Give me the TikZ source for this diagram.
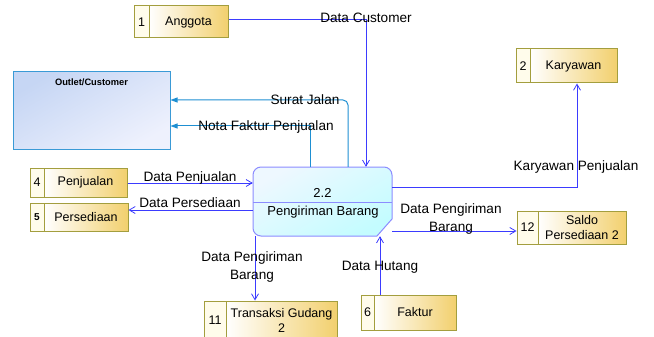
\documentclass[tikz,border=0pt]{standalone}
\usepackage{fontspec}
\setmainfont{Liberation Sans}
\usetikzlibrary{arrows.meta,fit}

\definecolor{flowblue}{HTML}{3B3BFF}
\definecolor{flowcyan}{HTML}{1E8FD2}
\definecolor{storeedge}{HTML}{A39E3E}
\definecolor{storegold}{HTML}{F2D06E}
\definecolor{storecream}{HTML}{FFFCEB}
\definecolor{procedge}{HTML}{8C8CFF}
\definecolor{procfillA}{HTML}{EEF8FF}
\definecolor{procfillB}{HTML}{C4FCFF}
\definecolor{entedge}{HTML}{3A9AD6}
\definecolor{entfillA}{HTML}{C6D6F4}
\definecolor{entfillB}{HTML}{EEF1FD}

% data store: name, x1, y1, x2, y2, split x, number, label
\newcommand\dstore[8]{%
  \node[storebox, fit={(#6,#3)(#4,#5)}] (#1) {};
  \node[storenum, fit={(#2,#3)(#6,#5)}] (#1-n) {};
  \node[storetext] (#1-t) at (#1.center) {#8};
  \node[storetext] (#1-nt) at (#1-n.center) {#7};
}

\begin{document}
\begin{tikzpicture}[x=1pt,y=-1pt,
  flowb/.style={draw=flowblue, line width=0.8pt, -{Straight Barb[length=6pt,width=7pt]}},
  flowc/.style={draw=flowcyan, line width=1pt, -{Triangle[length=7pt,width=5pt]}},
  storebox/.style={draw=storeedge, line width=1pt, left color=white, right color=storegold,
    inner sep=0pt},
  storenum/.style={draw=storeedge, line width=1pt, fill=storecream, inner sep=0pt},
  storetext/.style={inner sep=0pt, align=center, font=\fontsize{12.5}{14.5}\selectfont},
  lbl/.style={align=center, inner sep=0pt, font=\fontsize{13.6}{18}\selectfont}]

\clip (0,0) rectangle (654,337);

% external entity
\node[fit={(13,72)(170,149)}, inner sep=0pt, draw=entedge, line width=1pt,
  top color=entfillA, bottom color=entfillB, shading angle=30] (outlet) {};
\node[font=\fontsize{9.3}{11}\bfseries\selectfont] (outlettxt) at (91.5,82) {Outlet/Customer};

% process
\path[draw=procedge, line width=1pt, top color=procfillA, bottom color=procfillB, shading angle=30]
  [rounded corners=8pt] (377,236) -- (253,236) -- (253,167) -- (392,167)
  [sharp corners] -- (392,219) -- (377,236) -- cycle;
\node[fit={(253,167)(392,236)}, inner sep=0pt] (proc) {};
\draw[procedge, line width=1pt] (proc.west |- 0,202) -- (proc.east |- 0,202);
\node[lbl, font=\fontsize{13}{16}\selectfont] (procid) at (322.5,193) {2.2};
\node[lbl, font=\fontsize{13}{16}\selectfont] (procname) at (323,212) {Pengiriman Barang};

% data stores
\dstore{anggota}{134}{6}{228}{38}{149}{1}{Anggota}
\dstore{karyawan}{516}{49}{617}{83}{530}{2}{Karyawan}
\dstore{penjualan}{30}{168}{127}{197}{44}{4}{Penjualan}
\dstore{persediaan}{30}{203}{128}{231}{44}{\fontsize{10}{12}\bfseries\selectfont 5}{Persediaan}
\dstore{saldo}{517}{211}{626}{244}{538}{12}{Saldo\\Persediaan 2}
\dstore{transaksi}{204}{301}{337}{340}{226}{11}{Transaksi Gudang\\2}
\dstore{faktur}{361}{295}{456}{330}{374}{6}{Faktur}

% flows
\coordinate (dcbend) at (366,19);
\draw[flowb] (anggota.east |- dcbend) -- (dcbend) -- (proc.north -| dcbend);

\coordinate (sjbend) at (348,100);
\draw[flowc, rounded corners=5pt] (proc.north -| sjbend) -- (sjbend) -- (outlet.east |- sjbend);

\coordinate (nfbend) at (310,126);
\draw[flowc] (proc.north -| nfbend) -- (nfbend) -- (outlet.east |- nfbend);

\coordinate (kpbend) at (577,187);
\draw[flowb] (proc.east |- kpbend) -- (kpbend) -- (karyawan.south -| kpbend);

\draw[flowb] (penjualan.east |- 0,183) -- (proc.west |- 0,183);
\draw[flowb] (proc.west |- 0,210) -- (persediaan.east |- 0,210);
\draw[flowb] (proc.east |- 0,231) -- (saldo-n.west |- 0,231);
\draw[flowb] (proc.south -| 255,0) -- (transaksi.north -| 255,0);
\draw[flowb] (faktur.north -| 380,0) -- (proc.south -| 380,0);

% flow labels
\node[lbl] (l1) at (366,18) {Data Customer};
\node[lbl] (l2) at (305,100) {Surat Jalan};
\node[lbl] (l3) at (266,127) {Nota Faktur Penjualan};
\node[lbl] (l4) at (576,167) {Karyawan Penjualan};
\node[lbl] (l5) at (190,178) {Data Penjualan};
\node[lbl] (l6) at (190,203) {Data Persediaan};
\node[lbl] (l7) at (451,219) {Data Pengiriman\\Barang};
\node[lbl] (l8) at (252,267) {Data Pengiriman\\Barang};
\node[lbl] (l9) at (380,267) {Data Hutang};
\end{tikzpicture}
\end{document}
